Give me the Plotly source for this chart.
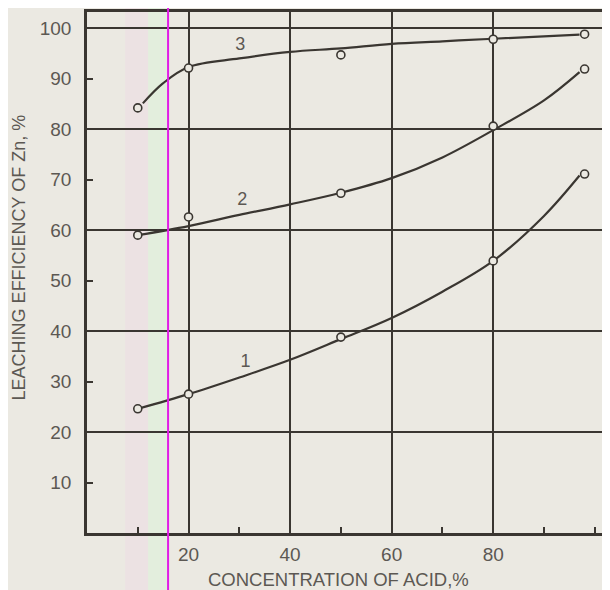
import plotly.graph_objects as go

# measured points
acid_pts = [10, 20, 50, 80, 98]
zn_curve1_pts = [24.6, 27.5, 38.8, 53.9, 71.1]
zn_curve2_pts = [59.0, 62.6, 67.3, 80.6, 91.9]
zn_curve3_pts = [84.2, 92.1, 94.7, 97.8, 98.8]

# smoothed (hand-drawn) curves
acid_c1 = [10, 20, 30, 40, 50, 60, 70, 80, 90, 97]
zn_c1 = [24.6, 27.5, 30.8, 34.3, 38.4, 42.6, 47.8, 53.9, 62.8, 70.8]
acid_c2 = [10, 20, 30, 40, 50, 60, 70, 80, 90, 97]
zn_c2 = [59.0, 60.8, 63.0, 65.1, 67.4, 70.3, 74.4, 79.8, 85.7, 91.3]
acid_c3 = [11, 15, 20, 30, 40, 50, 60, 70, 80, 97]
zn_c3 = [85.1, 89.1, 92.3, 94.0, 95.3, 96.0, 96.9, 97.4, 97.9, 98.7]

label_x = [31.2, 30.6, 30.2]
label_y = [33.7, 65.9, 96.6]
label_txt = ["1", "2", "3"]

x_major = [10, 20, 30, 40, 50, 60, 70, 80, 90, 100]
x_text = ["", "20", "", "40", "", "60", "", "80", "", ""]
x_grid = [20, 40, 60, 80]
y_major = [10, 20, 30, 40, 50, 60, 70, 80, 90, 100]
y_text = ["10", "20", "30", "40", "50", "60", "70", "80", "90", "100"]
y_grid = [20, 40, 60, 80, 100]

INK = "#3a3631"
TXT = "#5c5853"
BG = "#ebe9e2"
FONT = "Liberation Sans"

fig = go.Figure()
for xs, ys in [(acid_c1, zn_c1), (acid_c2, zn_c2), (acid_c3, zn_c3)]:
    fig.add_trace(go.Scatter(x=xs, y=ys, mode="lines", line=dict(color=INK, width=2.2, shape="spline", smoothing=1.0),
                             hoverinfo="skip", showlegend=False))
for ys in [zn_curve1_pts, zn_curve2_pts, zn_curve3_pts]:
    fig.add_trace(go.Scatter(x=acid_pts, y=ys, mode="markers",
                             marker=dict(symbol="circle", size=8, color=BG, line=dict(color=INK, width=1.6)),
                             showlegend=False))
fig.add_trace(go.Scatter(x=label_x, y=label_y, mode="text", text=label_txt,
                         textfont=dict(family=FONT, size=18, color=TXT), showlegend=False))

# scan artefacts (colour bands, magenta marker line)
shapes = [
    dict(type="rect", xref="paper", yref="paper", x0=0.073, x1=0.117, y0=-0.12, y1=1.03,
         fillcolor="#ece2e3", line_width=0, layer="below"),
    dict(type="rect", xref="paper", yref="paper", x0=0.117, x1=0.155, y0=-0.12, y1=1.03,
         fillcolor="#e3eedd", line_width=0, layer="below"),
    dict(type="line", xref="paper", yref="paper", x0=0.155, x1=0.155, y0=-0.12, y1=1.03,
         line=dict(color="#e01ee6", width=2), layer="above"),
]

fig.update_layout(
    width=602, height=582,
    margin=dict(l=79, r=0, t=4, b=57),
    paper_bgcolor=BG, plot_bgcolor=BG,
    shapes=shapes,
    font=dict(family=FONT, color=TXT),
    xaxis=dict(range=[0, 103], tickmode="array", tickvals=x_major, ticktext=x_text,
               ticks="inside", ticklen=6, tickwidth=2, tickcolor=INK,
               showgrid=False, zeroline=False,
               showline=True, linecolor=INK, linewidth=2.5, mirror=True,
               tickfont=dict(size=19, color=TXT), ticklabelstandoff=2,
               minor=dict(tickmode="array", tickvals=x_grid, showgrid=True, gridcolor=INK, gridwidth=1.6, ticks="")),
    yaxis=dict(range=[0, 103.2], tickmode="array", tickvals=y_major, ticktext=y_text,
               ticks="inside", ticklen=6, tickwidth=2, tickcolor=INK,
               showgrid=False, zeroline=False,
               showline=True, linecolor=INK, linewidth=2.5, mirror=False,
               tickfont=dict(size=19, color=TXT), ticklabelstandoff=9,
               minor=dict(tickmode="array", tickvals=y_grid, showgrid=True, gridcolor=INK, gridwidth=1.6, ticks="")),
    annotations=[
        dict(text="CONCENTRATION OF ACID,%", xref="paper", yref="paper", x=0.48, y=-0.090,
             xanchor="center", yanchor="middle", showarrow=False, font=dict(size=18.5, color=TXT)),
        dict(text="LEACHING EFFICIENCY OF Zn, %", xref="paper", yref="paper", x=-0.130, y=0.529,
             xanchor="center", yanchor="middle", textangle=-90, showarrow=False, font=dict(size=18, color=TXT)),
    ],
)

fig.write_html("out.html")
